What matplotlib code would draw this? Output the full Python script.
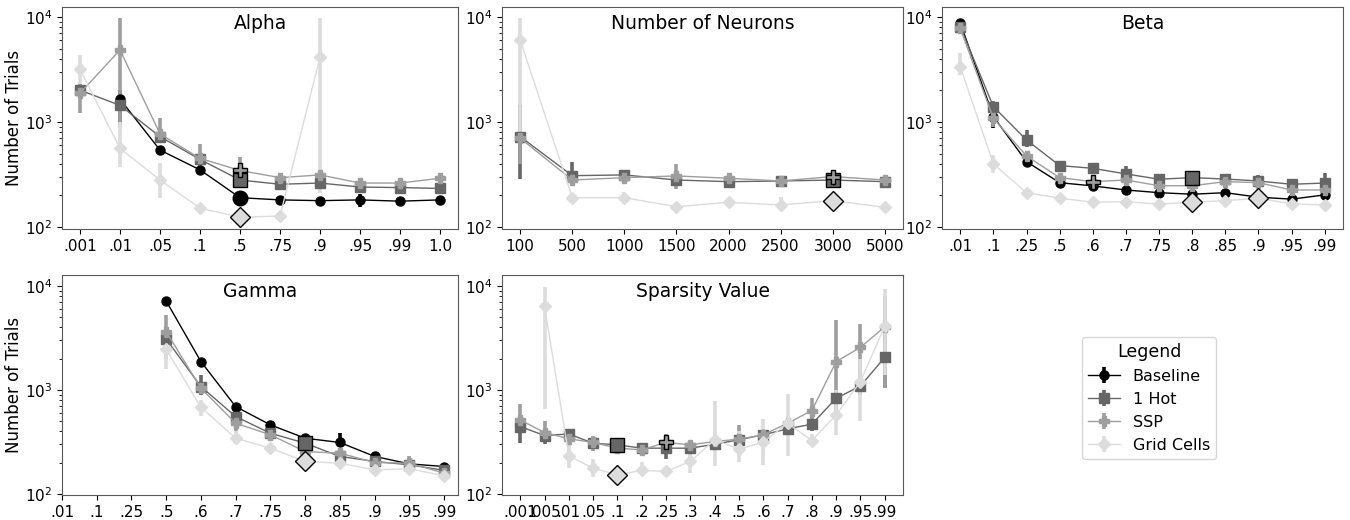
import numpy as np
import matplotlib
matplotlib.use('Agg')
import matplotlib.pyplot as plt

N = None
nan = np.nan

# ---- Alpha ----
alpha_ticks = ['.001', '.01', '.05', '.1', '.5', '.75', '.9', '.95', '.99', '1.0']
alpha_base = [nan, 1650, 540, 350, 190, 181, 178, 181, 176, 181]
alpha_base_lo = [N, 1300, 500, 315, N, N, N, 155, N, N]
alpha_base_hi = [N, 2000, 590, 385, N, N, N, 205, N, N]
alpha_hot = [2010, 1440, 725, 440, 280, 255, 262, 240, 237, 233]
alpha_hot_lo = [1700, 1000, 650, 400, 250, N, N, N, N, N]
alpha_hot_hi = [2300, 2000, 820, 500, 320, N, N, N, N, N]
alpha_ssp = [1880, 4850, 770, 450, 345, 295, 313, 262, 262, 291]
alpha_ssp_lo = [1220, 900, 630, 370, 250, 270, N, 245, 245, 270]
alpha_ssp_hi = [2300, 9800, 1090, 620, 465, 330, N, 290, 290, 320]
alpha_grid = [3180, 560, 280, 151, 124, 127, 4130, nan, nan, nan]
alpha_grid_lo = [2300, 370, 190, N, N, N, 211, N, N, N]
alpha_grid_hi = [4350, 1000, 410, N, N, N, 9800, N, N, N]

# ---- Number of Neurons ----
neur_ticks = ['100', '500', '1000', '1500', '2000', '2500', '3000', '5000']
neur_hot = [725, 308, 313, 280, 270, 274, 280, 270]
neur_hot_lo = [285, 250, N, N, N, N, N, 255]
neur_hot_hi = [1450, 420, N, N, N, N, N, N]
neur_ssp = [700, 280, 295, 306, 291, 274, 302, 280]
neur_ssp_lo = [400, 255, N, 230, N, 255, N, 260]
neur_ssp_hi = [1400, N, N, 400, 330, N, N, N]
neur_grid = [6040, 190, 190, 156, 172, 162, 178, 154]
neur_grid_lo = [700, N, 165, N, N, 150, N, N]
neur_grid_hi = [9800, N, 215, N, N, 195, N, N]

# ---- Beta ----
beta_ticks = ['.01', '.1', '.25', '.5', '.6', '.7', '.75', '.8', '.85', '.9', '.95', '.99']
beta_base = [8830, 1125, 419, 264, 246, 225, 212, 205, 212, 192, 184, 202]
beta_base_lo = [N, 880, 380, 240, 230, N, N, N, N, N, N, 190]
beta_base_hi = [N, 1350, N, N, N, N, N, N, N, N, N, 215]
beta_hot = [8090, 1400, 674, 384, 362, 320, 285, 295, 286, 274, 255, 262]
beta_hot_lo = [N, 1200, 580, N, N, 290, N, N, N, N, N, N]
beta_hot_hi = [N, 1600, 830, N, N, 380, N, N, 320, 310, N, 330]
beta_ssp = [7800, 1085, 474, 295, 270, 280, 247, 247, 270, 264, 225, 225]
beta_ssp_lo = [N, 900, 430, N, N, N, N, N, N, N, N, N]
beta_ssp_hi = [N, 1300, 520, N, N, N, N, N, N, N, N, N]
beta_grid = [3370, 398, 212, 188, 172, 174, 165, 172, 178, 188, 166, 162]
beta_grid_lo = [2800, 330, N, N, N, N, N, N, N, N, N, N]
beta_grid_hi = [4500, 480, N, N, N, N, N, N, N, N, N, N]

# ---- Gamma ----
gamma_ticks = ['.01', '.1', '.25', '.5', '.6', '.7', '.75', '.8', '.85', '.9', '.95', '.99']
gamma_base = [nan, nan, nan, 7130, 1870, 692, 462, 344, 313, 230, 195, 184]
gamma_base_lo = [N, N, N, N, N, N, N, N, N, N, N, N]
gamma_base_hi = [N, N, N, N, N, N, N, N, 385, N, N, N]
gamma_hot = [nan, nan, nan, 3080, 1077, 555, 384, 308, 230, 206, 191, 169]
gamma_hot_lo = [N, N, N, 2600, 900, N, N, N, N, N, N, N]
gamma_hot_hi = [N, N, N, 3600, 1400, N, N, N, N, N, N, N]
gamma_ssp = [nan, nan, nan, 3620, 1038, 479, 371, 256, 247, 201, 198, 159]
gamma_ssp_lo = [N, N, N, 2000, N, 400, N, N, N, N, 165, N]
gamma_ssp_hi = [N, N, N, 5300, N, 580, N, N, N, N, 230, N]
gamma_grid = [nan, nan, nan, 2455, 682, 344, 276, 206, 198, 171, 175, 150]
gamma_grid_lo = [N, N, N, 1600, 560, 300, N, N, N, N, N, 135]
gamma_grid_hi = [N, N, N, 3000, 800, 400, N, N, N, N, N, N]

# ---- Sparsity Value ----
sp_ticks = ['.001', '.005', '.01', '.05', '.1', '.2', '.25', '.3', '.4', '.5',
            '.6', '.7', '.8', '.9', '.95', '.99']
sp_hot = [445, 365, 378, 308, 297, 276, 276, 276, 301, 332, 371, 423, 469, 832, 1092, 2056]
sp_hot_lo = [310, 300, N, N, N, N, 215, N, N, N, N, N, 400, 600, 900, 1050]
sp_hot_hi = [560, 430, N, N, N, N, 340, N, N, N, N, N, 560, 1000, 1300, 4000]
sp_ssp = [515, 390, 340, 313, 276, 266, 313, 297, 320, 337, 371, 479, 634, 1870, 2565, 4045]
sp_ssp_lo = [400, 330, N, 260, N, N, N, N, N, 300, N, N, 500, 1000, 1200, 1050]
sp_ssp_hi = [730, 500, N, 360, N, N, 380, N, N, 460, N, N, 830, 4700, 4300, 8000]
sp_grid = [nan, 6380, 233, 177, 153, 169, 165, 206, 332, 270, 315, 479, 327, 575, 1203, 4100]
sp_grid_lo = [N, 650, 180, 145, N, 150, N, 160, 185, 205, 190, 230, 290, 370, 500, 1400]
sp_grid_hi = [N, 9800, 300, 215, N, 205, N, 250, 780, 400, 530, 920, 380, 1000, 2000, 9300]

names = ['Baseline', '1 Hot', 'SSP', 'Grid Cells']
colors = ['black', '#666666', '#9e9e9e', '#dcdcdc']
markers = ['o', 's', 'P', 'D']

# panel: title, ticks, {series: (vals, lo, hi, highlighted idx)}, axes rect, ylim, ylabel
panels = [
    ('Alpha', alpha_ticks, {
        'Baseline': (alpha_base, alpha_base_lo, alpha_base_hi, [4]),
        '1 Hot': (alpha_hot, alpha_hot_lo, alpha_hot_hi, [4]),
        'SSP': (alpha_ssp, alpha_ssp_lo, alpha_ssp_hi, [4]),
        'Grid Cells': (alpha_grid, alpha_grid_lo, alpha_grid_hi, [4])},
     [62, 7, 396, 222], (95.6, 12450), True),
    ('Number of Neurons', neur_ticks, {
        '1 Hot': (neur_hot, neur_hot_lo, neur_hot_hi, [6]),
        'SSP': (neur_ssp, neur_ssp_lo, neur_ssp_hi, [6]),
        'Grid Cells': (neur_grid, neur_grid_lo, neur_grid_hi, [6])},
     [502, 7, 401, 222], (95.6, 12450), False),
    ('Beta', beta_ticks, {
        'Baseline': (beta_base, beta_base_lo, beta_base_hi, []),
        '1 Hot': (beta_hot, beta_hot_lo, beta_hot_hi, [7]),
        'SSP': (beta_ssp, beta_ssp_lo, beta_ssp_hi, [4]),
        'Grid Cells': (beta_grid, beta_grid_lo, beta_grid_hi, [7, 9])},
     [942, 7, 401, 222], (95.6, 12450), False),
    ('Gamma', gamma_ticks, {
        'Baseline': (gamma_base, gamma_base_lo, gamma_base_hi, []),
        '1 Hot': (gamma_hot, gamma_hot_lo, gamma_hot_hi, [7]),
        'SSP': (gamma_ssp, gamma_ssp_lo, gamma_ssp_hi, []),
        'Grid Cells': (gamma_grid, gamma_grid_lo, gamma_grid_hi, [7])},
     [62, 275, 396, 220], (98, 12700), True),
    ('Sparsity Value', sp_ticks, {
        '1 Hot': (sp_hot, sp_hot_lo, sp_hot_hi, [4]),
        'SSP': (sp_ssp, sp_ssp_lo, sp_ssp_hi, [6]),
        'Grid Cells': (sp_grid, sp_grid_lo, sp_grid_hi, [4])},
     [502, 275, 401, 220], (98, 12700), False),
]

W, H = 1350, 520
fig = plt.figure(figsize=(13.5, 5.2), dpi=100)

legend_handles = None
for title, ticks, series, rect, ylim, ylab in panels:
    x0, y0, w, h = rect
    ax = fig.add_axes([x0 / W, 1 - (y0 + h) / H, w / W, h / H])
    x = np.arange(len(ticks))
    handles = []
    for name, col, mk in zip(names, colors, markers):
        if name not in series:
            continue
        vals, lo, hi, best = series[name]
        v = np.array(vals, dtype=float)
        lo = np.array([v[i] if lo[i] is None else lo[i] for i in range(len(v))], dtype=float)
        hi = np.array([v[i] if hi[i] is None else hi[i] for i in range(len(v))], dtype=float)
        eb = ax.errorbar(x, v, yerr=[v - lo, hi - v], fmt='-', marker=mk, color=col,
                         lw=1, elinewidth=2.6, ms=6.5, capsize=0, label=name)
        handles.append(eb)
        for b in best:
            ax.plot(x[b], v[b], marker=mk, ms=10.5, color=col, mec='black',
                    mew=1.0, ls='none', zorder=5)
    if legend_handles is None and len(handles) == 4:
        legend_handles = handles
    ax.set_yscale('log')
    ax.set_ylim(*ylim)
    ax.set_xticks(x)
    ax.set_xticklabels(ticks, fontsize=11)
    ax.tick_params(axis='y', labelsize=11)
    ax.text(0.5, 0.97, title, transform=ax.transAxes, ha='center', va='top', fontsize=13.5)
    if ylab:
        ax.set_ylabel('Number of Trials', fontsize=12, labelpad=1)
    for s in ax.spines.values():
        s.set_color('0.35')

fig.legend(legend_handles, names, loc='center', bbox_to_anchor=(1149 / W, 1 - 398 / H),
           title='Legend', fontsize=11.5, title_fontsize=12.5, handlelength=2.0)

fig.savefig('out.png', dpi=100)
